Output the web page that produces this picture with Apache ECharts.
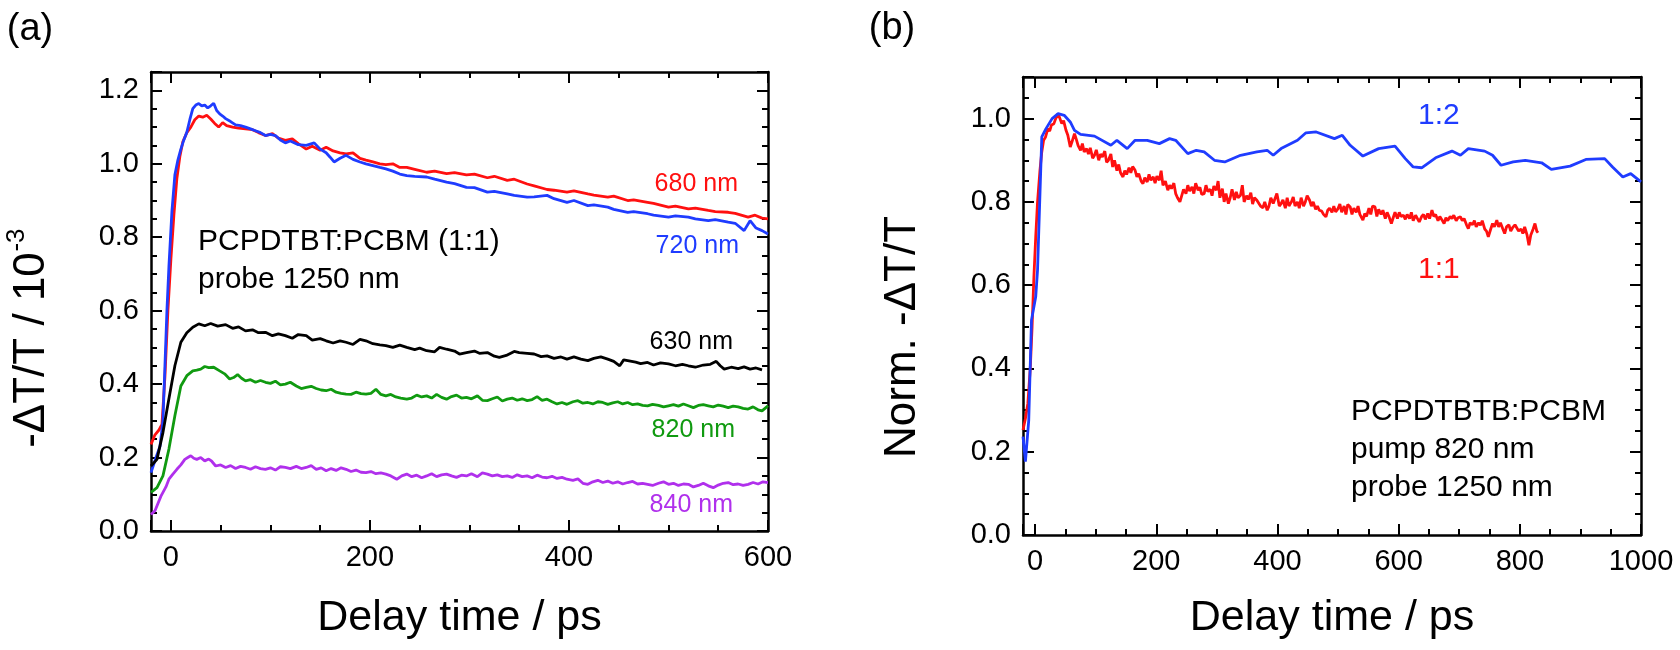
<!DOCTYPE html>
<html>
<head>
<meta charset="utf-8">
<script src="https://cdn.jsdelivr.net/npm/echarts@6/dist/echarts.min.js"></script>
<style>
html,body{margin:0;padding:0;background:#fff;}
#c{width:1680px;height:650px;}
</style>
</head>
<body>
<div id="c"></div>
<script>
// ---- Panel (a): -dT/T (10^-3) vs delay time (ps) ----
const s680 = [[-20,0.236],[-16,0.262],[-12,0.275],[-9,0.29],[-6,0.42],[-3,0.6],[0,0.74],[3,0.86],[6,0.96],[9,1.02],[12,1.06],[16,1.085],[20,1.10],[24,1.12],[28,1.13],[32,1.127],[36,1.132],[40,1.122],[44,1.11],[48,1.1],[52,1.112],[56,1.104],[62,1.1],[68,1.097],[75,1.095],[82,1.093],[88,1.085],[95,1.077],[102,1.082],[108,1.07],[115,1.064],[122,1.068],[128,1.055],[136,1.04],[142,1.048],[150,1.037],[156,1.045],[163,1.035],[170,1.03],[176,1.027],[183,1.03],[190,1.015],[196,1.01],[203,1.005],[210,1.0],[216,0.998],[223,1.0],[230,0.99],[237,0.99],[245,0.985],[257,0.977],[265,0.98],[277,0.973],[285,0.976],[297,0.97],[305,0.972],[318,0.962],[325,0.966],[338,0.955],[345,0.958],[358,0.945],[365,0.94],[378,0.93],[385,0.928],[398,0.923],[405,0.926],[419,0.918],[425,0.915],[439,0.909],[445,0.912],[459,0.9],[465,0.902],[479,0.895],[485,0.892],[500,0.882],[507,0.885],[520,0.877],[527,0.879],[540,0.873],[547,0.87],[560,0.868],[567,0.865],[580,0.855],[587,0.86],[594,0.852],[600,0.85]];
const s720 = [[-20,0.159],[-15,0.2],[-11,0.23],[-8,0.3],[-6,0.45],[-4,0.6],[-2,0.72],[1,0.87],[4,0.97],[7,1.01],[10,1.04],[13,1.065],[16,1.086],[19,1.12],[22,1.15],[25,1.16],[28,1.164],[31,1.158],[34,1.16],[37,1.152],[40,1.158],[43,1.165],[46,1.145],[49,1.136],[52,1.13],[55,1.123],[60,1.115],[65,1.106],[70,1.104],[75,1.1],[80,1.095],[85,1.09],[90,1.085],[95,1.077],[100,1.08],[105,1.077],[110,1.065],[115,1.057],[120,1.062],[128,1.052],[136,1.05],[144,1.057],[150,1.04],[156,1.03],[160,1.018],[164,1.005],[170,1.015],[176,1.023],[183,1.012],[190,1.005],[196,1.0],[203,0.995],[210,0.99],[216,0.986],[223,0.98],[230,0.972],[237,0.968],[245,0.966],[257,0.964],[265,0.958],[277,0.95],[285,0.946],[297,0.936],[305,0.935],[318,0.923],[325,0.925],[338,0.918],[345,0.914],[358,0.909],[365,0.91],[378,0.914],[385,0.905],[398,0.895],[405,0.9],[419,0.886],[425,0.888],[439,0.882],[445,0.876],[459,0.868],[465,0.87],[479,0.864],[485,0.86],[500,0.855],[507,0.858],[520,0.855],[527,0.85],[540,0.845],[547,0.848],[560,0.841],[567,0.838],[576,0.818],[582,0.845],[588,0.825],[594,0.818],[600,0.809]];
const s630 = [[-20,0.177],[-14,0.195],[-8,0.268],[-2,0.36],[4,0.45],[10,0.514],[16,0.54],[22,0.555],[28,0.564],[34,0.559],[40,0.565],[47,0.558],[55,0.562],[62,0.552],[68,0.556],[75,0.545],[82,0.548],[88,0.54],[95,0.541],[102,0.532],[108,0.537],[115,0.532],[122,0.525],[128,0.535],[136,0.532],[142,0.52],[150,0.524],[156,0.518],[163,0.512],[170,0.518],[176,0.514],[183,0.508],[190,0.522],[196,0.518],[203,0.51],[210,0.507],[216,0.505],[223,0.5],[230,0.506],[237,0.5],[245,0.494],[250,0.498],[257,0.491],[265,0.488],[270,0.5],[277,0.495],[285,0.49],[290,0.482],[297,0.486],[305,0.49],[310,0.484],[318,0.486],[325,0.476],[330,0.473],[337,0.478],[345,0.489],[350,0.486],[358,0.484],[365,0.482],[372,0.475],[378,0.477],[385,0.47],[392,0.474],[398,0.468],[405,0.474],[412,0.468],[419,0.464],[425,0.47],[432,0.474],[439,0.468],[445,0.462],[451,0.45],[455,0.466],[459,0.464],[467,0.46],[472,0.456],[479,0.459],[485,0.452],[492,0.458],[500,0.455],[507,0.45],[514,0.454],[520,0.45],[527,0.446],[535,0.452],[542,0.454],[548,0.462],[552,0.45],[556,0.441],[563,0.446],[570,0.442],[576,0.447],[582,0.441],[588,0.444],[594,0.439]];
const s820 = [[-20,0.105],[-14,0.118],[-8,0.15],[-2,0.223],[4,0.314],[10,0.395],[16,0.423],[22,0.436],[26,0.438],[30,0.441],[34,0.448],[38,0.445],[43,0.446],[49,0.436],[54,0.428],[59,0.414],[63,0.418],[67,0.426],[71,0.416],[75,0.409],[80,0.412],[85,0.405],[90,0.41],[95,0.405],[100,0.402],[105,0.408],[110,0.398],[115,0.4],[120,0.405],[126,0.395],[131,0.388],[136,0.391],[141,0.394],[146,0.388],[151,0.384],[156,0.382],[161,0.386],[166,0.378],[171,0.375],[176,0.373],[181,0.372],[186,0.378],[191,0.374],[196,0.373],[201,0.375],[206,0.386],[211,0.372],[216,0.368],[221,0.372],[226,0.365],[231,0.362],[237,0.359],[242,0.362],[247,0.37],[252,0.365],[257,0.368],[262,0.362],[267,0.372],[272,0.364],[277,0.359],[282,0.366],[287,0.37],[292,0.362],[297,0.364],[302,0.36],[308,0.368],[313,0.356],[318,0.355],[323,0.36],[328,0.365],[333,0.354],[338,0.359],[343,0.362],[348,0.356],[353,0.36],[358,0.355],[363,0.358],[368,0.366],[373,0.356],[378,0.359],[383,0.352],[388,0.346],[393,0.35],[398,0.345],[404,0.352],[409,0.355],[414,0.348],[419,0.35],[424,0.346],[429,0.352],[434,0.35],[439,0.345],[444,0.349],[449,0.352],[454,0.346],[459,0.35],[464,0.344],[469,0.346],[474,0.342],[479,0.341],[484,0.345],[490,0.342],[495,0.338],[500,0.341],[505,0.344],[510,0.34],[515,0.346],[520,0.341],[525,0.336],[530,0.342],[535,0.344],[540,0.341],[545,0.338],[550,0.343],[555,0.34],[560,0.336],[565,0.34],[570,0.338],[575,0.334],[580,0.332],[585,0.338],[590,0.33],[594,0.327],[597,0.334],[600,0.341]];
const s840 = [[-20,0.045],[-16,0.055],[-10,0.095],[-5,0.12],[-2,0.141],[2,0.155],[6,0.168],[10,0.18],[14,0.195],[17,0.2],[20,0.205],[23,0.198],[26,0.195],[30,0.2],[34,0.191],[38,0.196],[41,0.19],[45,0.177],[50,0.18],[55,0.173],[60,0.178],[65,0.17],[70,0.176],[75,0.173],[80,0.168],[85,0.175],[90,0.17],[95,0.168],[100,0.172],[105,0.166],[110,0.175],[115,0.173],[120,0.17],[126,0.176],[131,0.17],[136,0.173],[141,0.178],[146,0.168],[151,0.172],[156,0.164],[161,0.17],[166,0.165],[171,0.172],[176,0.168],[181,0.162],[186,0.166],[191,0.16],[196,0.159],[201,0.162],[206,0.156],[211,0.158],[216,0.155],[221,0.15],[227,0.141],[232,0.15],[237,0.155],[242,0.148],[247,0.152],[252,0.145],[257,0.15],[262,0.156],[267,0.148],[272,0.153],[277,0.155],[282,0.15],[287,0.146],[292,0.152],[297,0.15],[302,0.156],[308,0.148],[313,0.158],[318,0.155],[323,0.15],[328,0.153],[333,0.148],[338,0.15],[343,0.146],[348,0.153],[353,0.148],[358,0.15],[363,0.145],[368,0.152],[373,0.147],[378,0.145],[383,0.149],[388,0.143],[393,0.146],[398,0.141],[404,0.138],[409,0.142],[414,0.13],[419,0.127],[424,0.134],[429,0.138],[434,0.132],[439,0.136],[444,0.13],[449,0.134],[454,0.128],[459,0.132],[464,0.135],[469,0.128],[474,0.13],[479,0.127],[484,0.124],[490,0.13],[495,0.134],[500,0.127],[505,0.13],[510,0.124],[515,0.128],[520,0.127],[525,0.12],[530,0.124],[535,0.13],[540,0.123],[545,0.118],[550,0.125],[555,0.13],[560,0.132],[565,0.126],[570,0.128],[575,0.124],[580,0.127],[585,0.132],[590,0.128],[595,0.134],[600,0.132]];

// ---- Panel (b): normalized -dT/T vs delay time (ps) ----
const sB12 = [[-20,0.236],[-16,0.176],[-10.5,0.276],[-6,0.516],[1,0.572],[4,0.636],[11,0.956],[18,0.976],[28,1.0],[38,1.012],[48,1.008],[58,0.992],[65,0.972],[75,0.962],[98,0.958],[125,0.936],[135,0.948],[152,0.928],[165,0.948],[185,0.948],[205,0.94],[222,0.952],[232,0.948],[252,0.916],[266,0.924],[279,0.92],[296,0.9],[313,0.896],[339,0.912],[366,0.92],[383,0.924],[393,0.912],[406,0.928],[433,0.948],[447,0.966],[464,0.968],[494,0.952],[507,0.96],[520,0.936],[541,0.91],[567,0.928],[594,0.934],[611,0.904],[624,0.884],[638,0.882],[661,0.906],[688,0.922],[702,0.912],[715,0.928],[742,0.922],[755,0.912],[769,0.888],[789,0.896],[809,0.9],[836,0.894],[852,0.878],[883,0.886],[909,0.902],[940,0.904],[953,0.884],[970,0.86],[983,0.868],[1000,0.848]];
const sB11 = [[-20,0.252],[-16,0.28],[-12,0.316],[-8,0.4],[-5,0.5],[-2,0.62],[1,0.716],[4,0.8],[8,0.876],[11,0.92],[14,0.948],[17,0.955],[21,0.976],[24,0.97],[27,0.985],[31,0.988],[34,1.0],[38,1.012],[41,1.0],[44,0.988],[47,0.995],[51,0.972],[54,0.96],[58,0.932],[61,0.945],[65,0.964],[68,0.95],[71,0.935],[75,0.924],[78,0.94],[81,0.92],[85,0.928],[88,0.915],[91,0.93],[95,0.905],[98,0.912],[101,0.925],[105,0.9],[108,0.915],[111,0.908],[115,0.922],[118,0.895],[121,0.9],[125,0.915],[128,0.884],[131,0.9],[135,0.875],[138,0.89],[141,0.87],[145,0.86],[148,0.875],[151,0.866],[155,0.882],[158,0.87],[161,0.885],[165,0.876],[168,0.86],[171,0.868],[175,0.85],[178,0.844],[181,0.858],[185,0.848],[188,0.866],[191,0.852],[195,0.86],[198,0.845],[201,0.862],[205,0.852],[208,0.875],[211,0.84],[215,0.85],[219,0.828],[222,0.84],[225,0.832],[229,0.845],[232,0.82],[235,0.81],[239,0.8],[242,0.815],[245,0.83],[249,0.82],[252,0.84],[255,0.826],[259,0.836],[262,0.82],[265,0.845],[269,0.828],[272,0.835],[275,0.818],[279,0.82],[282,0.84],[285,0.825],[289,0.83],[292,0.815],[295,0.838],[299,0.828],[302,0.85],[305,0.81],[309,0.832],[312,0.8],[315,0.82],[319,0.796],[322,0.81],[325,0.83],[329,0.805],[332,0.824],[335,0.81],[339,0.816],[342,0.84],[345,0.8],[349,0.815],[352,0.806],[356,0.822],[359,0.795],[362,0.81],[366,0.804],[369,0.8],[372,0.79],[376,0.786],[379,0.8],[383,0.78],[386,0.79],[389,0.81],[393,0.796],[396,0.8],[399,0.82],[403,0.79],[406,0.796],[409,0.805],[413,0.785],[416,0.81],[419,0.79],[423,0.8],[426,0.812],[429,0.79],[433,0.8],[436,0.785],[439,0.81],[443,0.79],[446,0.8],[449,0.815],[453,0.804],[456,0.79],[459,0.8],[463,0.782],[466,0.79],[469,0.78],[473,0.778],[476,0.77],[480,0.764],[483,0.78],[486,0.785],[490,0.775],[493,0.79],[496,0.776],[500,0.784],[503,0.795],[506,0.775],[510,0.79],[513,0.77],[516,0.794],[520,0.788],[523,0.77],[526,0.785],[530,0.775],[533,0.79],[536,0.77],[541,0.756],[544,0.772],[547,0.765],[551,0.785],[554,0.77],[557,0.79],[561,0.788],[564,0.765],[567,0.782],[571,0.77],[574,0.78],[578,0.76],[581,0.775],[584,0.765],[588,0.748],[591,0.762],[594,0.775],[598,0.76],[601,0.775],[604,0.765],[608,0.768],[611,0.758],[614,0.77],[618,0.76],[621,0.775],[624,0.755],[628,0.768],[631,0.76],[634,0.752],[638,0.765],[641,0.77],[644,0.758],[648,0.772],[651,0.76],[655,0.78],[658,0.765],[661,0.77],[665,0.755],[668,0.765],[671,0.758],[675,0.748],[678,0.762],[681,0.755],[685,0.765],[688,0.76],[691,0.768],[695,0.755],[698,0.762],[702,0.764],[705,0.755],[708,0.76],[712,0.745],[715,0.736],[718,0.75],[722,0.745],[725,0.755],[728,0.74],[732,0.75],[735,0.744],[738,0.755],[742,0.735],[745,0.73],[748,0.716],[752,0.735],[755,0.748],[758,0.74],[762,0.756],[765,0.74],[768,0.75],[772,0.735],[775,0.724],[778,0.74],[782,0.745],[785,0.73],[788,0.738],[792,0.745],[795,0.748],[798,0.73],[802,0.735],[805,0.724],[808,0.74],[812,0.72],[815,0.696],[818,0.72],[822,0.735],[825,0.748],[828,0.73],[830,0.726]];

const labelsA = ['680 nm','720 nm','630 nm','820 nm','840 nm'];
const labelsB = ['1:2','1:1'];

const FONT = "'Liberation Sans', Arial, sans-serif";
const C = {red:'#ff1010', blue:'#1f3cff', black:'#000000', green:'#109a10', purple:'#b030ec'};

function xAx(grid, max, split, pos){
  return {
    gridIndex: grid, type:'value', min:-20, max:max, splitNumber:split, position:pos,
    axisLine:{show:true, onZero:false, lineStyle:{color:'#000', width:2.5}},
    axisTick:{show:true, inside:true, length:11, lineStyle:{color:'#000', width:2}},
    minorTick:{show:true, splitNumber:4, length:6, lineStyle:{color:'#000', width:2}},
    splitLine:{show:false}, minorSplitLine:{show:false},
    axisLabel:{show: pos==='bottom', showMinLabel:false, color:'#000', fontSize:29, fontFamily:FONT, margin:12,
      formatter: v => String(Math.round(v))}
  };
}
function yAx(grid, max, pos){
  return {
    gridIndex: grid, type:'value', min:0, max:max, interval:0.2, position:pos,
    axisLine:{show:true, onZero:false, lineStyle:{color:'#000', width:2.5}},
    axisTick:{show:true, inside:true, length:11, lineStyle:{color:'#000', width:2}},
    minorTick:{show:true, splitNumber:4, length:6, lineStyle:{color:'#000', width:2}},
    splitLine:{show:false}, minorSplitLine:{show:false},
    axisLabel:{show: pos==='left', showMaxLabel:false, color:'#000', fontSize:29, fontFamily:FONT, margin:12,
      formatter: v => v.toFixed(1)}
  };
}
function line(name, data, color, xi, yi){
  return {name, type:'line', data, xAxisIndex:xi, yAxisIndex:yi, showSymbol:false, symbol:'none',
    lineStyle:{color, width:2.8}, itemStyle:{color}, clip:true, animation:false};
}
function txt(text, x, y, size, color, align, rot){
  return {type:'text', x, y, rotation: rot||0, silent:true,
    style:{text, fill:color||'#000', font: size+'px '+FONT, align: align||'left', verticalAlign:'middle'}};
}

const chart = echarts.init(document.getElementById('c'), null, {renderer:'canvas'});
chart.setOption({
  backgroundColor:'#fff',
  animation:false,
  grid:[
    {left:151, top:72, width:617, height:459},
    {left:1023, top:77, width:618, height:458}
  ],
  xAxis:[ xAx(0,600,3,'bottom'), xAx(0,600,3,'top'), xAx(1,1000,5,'bottom'), xAx(1,1000,5,'top') ],
  yAxis:[ yAx(0,1.25,'left'), yAx(0,1.25,'right'), yAx(1,1.1,'left'), yAx(1,1.1,'right') ],
  series:[
    line(labelsA[0], s680, C.red, 0, 0),
    line(labelsA[1], s720, C.blue, 0, 0),
    line(labelsA[2], s630, C.black, 0, 0),
    line(labelsA[3], s820, C.green, 0, 0),
    line(labelsA[4], s840, C.purple, 0, 0),
    line(labelsB[1], sB11, C.red, 2, 2),
    line(labelsB[0], sB12, C.blue, 2, 2)
  ],
  graphic:[
    txt('(a)', 30, 30, 38, '#000', 'center'),
    txt('(b)', 892, 29, 38, '#000', 'center'),
    txt('Delay time / ps', 459.5, 618, 43, '#000', 'center'),
    txt('Delay time / ps', 1332, 618, 43, '#000', 'center'),
    txt('-\u0394T/T / 10', 32, 350, 44, '#000', 'center', Math.PI/2),
    txt('-3', 17, 240, 26, '#000', 'center', Math.PI/2),
    txt('Norm. -\u0394T/T', 903, 337, 44, '#000', 'center', Math.PI/2),
    txt(labelsA[0], 738, 184, 25, C.red, 'right'),
    txt(labelsA[1], 739, 246, 25, C.blue, 'right'),
    txt(labelsA[2], 733, 342, 25, C.black, 'right'),
    txt(labelsA[3], 735, 430, 25, C.green, 'right'),
    txt(labelsA[4], 733, 505, 25, C.purple, 'right'),
    txt('PCPDTBT:PCBM (1:1)', 198, 242, 30, '#000', 'left'),
    txt('probe 1250 nm', 198, 280, 30, '#000', 'left'),
    txt(labelsB[0], 1418, 116, 30, C.blue, 'left'),
    txt(labelsB[1], 1418, 270, 30, C.red, 'left'),
    txt('PCPDTBTB:PCBM', 1351, 412, 30, '#000', 'left'),
    txt('pump 820 nm', 1351, 450, 30, '#000', 'left'),
    txt('probe 1250 nm', 1351, 488, 30, '#000', 'left')
  ]
});
</script>
</body>
</html>
